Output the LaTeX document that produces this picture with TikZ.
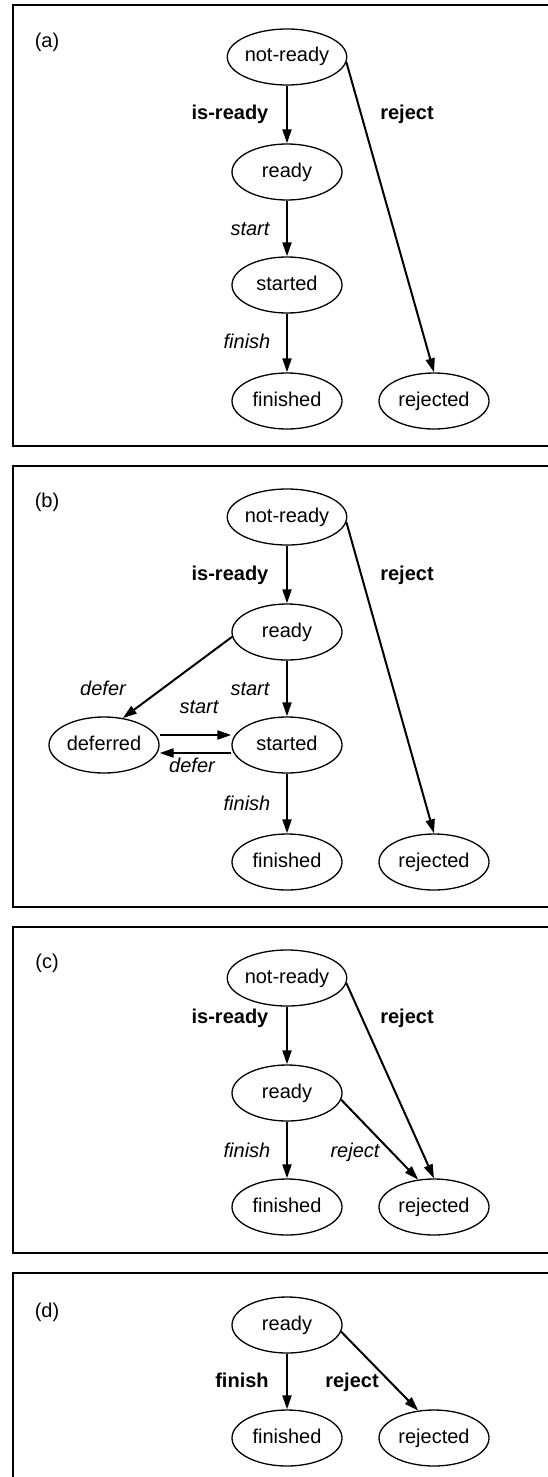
\documentclass[tikz,border=0pt]{standalone}
\usepackage{fontspec}
\setmainfont{Liberation Sans}
\usetikzlibrary{arrows.meta,shapes.geometric}
\tikzset{
  state/.style={ellipse,draw,line width=1.3pt,minimum width=110pt,minimum height=56pt,
    inner sep=0pt,font=\fontsize{20}{24}\selectfont,text height=14pt,text depth=4pt},
  lbl/.style={inner sep=0pt,font=\fontsize{20}{24}\selectfont,text height=14pt,text depth=4pt},
  blbl/.style={lbl,font=\fontsize{20}{24}\selectfont\bfseries},
  ilbl/.style={lbl,font=\fontsize{20}{24}\selectfont\itshape},
  arr/.style={line width=2pt,-{Triangle[length=14pt,width=9pt]}},
  panel/.style={draw,line width=1.8pt},
}
\begin{document}
\begin{tikzpicture}[x=1pt,y=-1pt]
\clip (0,0) rectangle (548,1477);
\fill[white] (0,0) rectangle (548,1477);

% ---------- panel (a) ----------
\draw[panel] (13,5) rectangle (620,446);
\node[lbl] (la) at (47,43) {(a)};
\node[state] (a-nr) at (287,57) {not-ready};
\node[state] (a-rd) at (287,172) {ready};
\node[state] (a-st) at (287,285) {started};
\node[state] (a-fi) at (287,401) {finished};
\node[state] (a-rj) at (434,401) {rejected};
\draw[arr] (a-nr.south) -- (a-rd.north);
\draw[arr] (a-rd.south) -- (a-st.north);
\draw[arr] (a-st.south) -- (a-fi.north);
\draw[arr] (a-nr.-5) -- (a-rj.north);
\node[blbl] (a-l1) at (230,115) {is-ready};
\node[blbl] (a-l2) at (407,115) {reject};
\node[ilbl] (a-l3) at (250,230) {start};
\node[ilbl] (a-l4) at (247,343) {finish};

% ---------- panel (b) ----------
\draw[panel] (13,466) rectangle (620,907);
\node[lbl] (lb) at (47,502) {(b)};
\node[state] (b-nr) at (287,517) {not-ready};
\node[state] (b-rd) at (287,632) {ready};
\node[state] (b-st) at (287,745) {started};
\node[state] (b-fi) at (287,862) {finished};
\node[state] (b-rj) at (434,862) {rejected};
\node[state] (b-df) at (104,745) {deferred};
\draw[arr] (b-nr.south) -- (b-rd.north);
\draw[arr] (b-rd.south) -- (b-st.north);
\draw[arr] (b-st.south) -- (b-fi.north);
\draw[arr] (b-nr.-5) -- (b-rj.north);
\draw[arr] (b-rd.185) -- (b-df.55);
\draw[arr] ([yshift=10pt]b-df.east) -- ([yshift=10pt]b-st.west);
\draw[arr] ([yshift=-8pt]b-st.west) -- ([yshift=-8pt]b-df.east);
\node[blbl] (b-l1) at (230,575) {is-ready};
\node[blbl] (b-l2) at (407,575) {reject};
\node[ilbl] (b-l3) at (103,690) {defer};
\node[ilbl] (b-l4) at (250,690) {start};
\node[ilbl] (b-l5) at (199,708) {start};
\node[ilbl] (b-l6) at (192,767) {defer};
\node[ilbl] (b-l7) at (247,805) {finish};

% ---------- panel (c) ----------
\draw[panel] (13,927) rectangle (620,1253);
\node[lbl] (lc) at (47,963) {(c)};
\node[state] (c-nr) at (287,978) {not-ready};
\node[state] (c-rd) at (287,1093) {ready};
\node[state] (c-fi) at (287,1207) {finished};
\node[state] (c-rj) at (434,1207) {rejected};
\draw[arr] (c-nr.south) -- (c-rd.north);
\draw[arr] (c-rd.south) -- (c-fi.north);
\draw[arr] (c-nr.-5) -- (c-rj.north);
\draw[arr] (c-rd.-7) -- (c-rj.120);
\node[blbl] (c-l1) at (230,1018) {is-ready};
\node[blbl] (c-l2) at (407,1018) {reject};
\node[ilbl] (c-l3) at (247,1152) {finish};
\node[ilbl] (c-l4) at (355,1152) {reject};

% ---------- panel (d) ----------
\draw[panel] (13,1273) rectangle (620,1520);
\node[lbl] (ld) at (47,1312) {(d)};
\node[state] (d-rd) at (287,1325) {ready};
\node[state] (d-fi) at (287,1438) {finished};
\node[state] (d-rj) at (434,1438) {rejected};
\draw[arr] (d-rd.south) -- (d-fi.north);
\draw[arr] (d-rd.-7) -- (d-rj.120);
\node[blbl] (d-l1) at (242,1382) {finish};
\node[blbl] (d-l2) at (352,1382) {reject};
\end{tikzpicture}
\end{document}
